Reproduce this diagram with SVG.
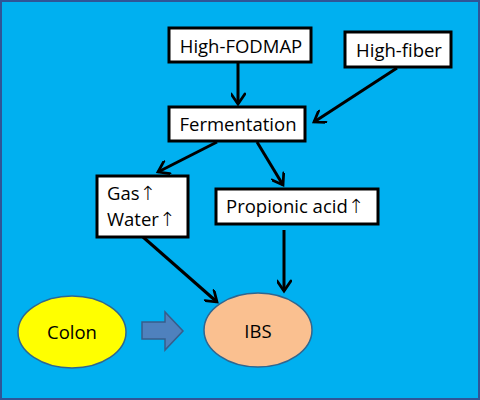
<svg xmlns="http://www.w3.org/2000/svg" width="480" height="400" viewBox="0 0 480 400">
<defs>
<style>
.box{fill:#fff;stroke:#000;stroke-width:3}
.t{font-family:"Open Sans","Liberation Sans",Arial,sans-serif;font-size:18.5px;fill:#000}
.ar{font-family:"DejaVu Sans",sans-serif;font-weight:200;font-size:19.5px}
.c{stroke:#000;stroke-width:3;fill:none;marker-end:url(#ah)}
</style>
<marker id="ah" viewBox="0 0 12 12" refX="10" refY="6" markerWidth="5" markerHeight="5" orient="auto" markerUnits="strokeWidth">
<path d="M2,0.5 L10,6 L2,11.5" fill="none" stroke="#000" stroke-width="2.2" stroke-linecap="round" stroke-linejoin="miter"/>
</marker>
</defs>
<rect x="1" y="1" width="478" height="398" fill="#00B0F0" stroke="#2F5597" stroke-width="2"/>
<g id="connectors">
<line class="c" x1="238" y1="62" x2="238" y2="104"/>
<line class="c" x1="397" y1="68" x2="314" y2="122"/>
<line class="c" x1="217" y1="142" x2="158" y2="172"/>
<line class="c" x1="257" y1="142" x2="283" y2="185"/>
<line class="c" x1="143" y1="237" x2="217" y2="302"/>
<line class="c" x1="284" y1="230" x2="284" y2="291"/>
</g>
<g id="high-fodmap">
<rect class="box" x="169" y="28" width="142" height="34"/>
<text class="t" x="241" y="53" text-anchor="middle">High-FODMAP</text>
</g>
<g id="high-fiber">
<rect class="box" x="345" y="32" width="106" height="35"/>
<text class="t" x="399" y="57" text-anchor="middle">High-fiber</text>
</g>
<g id="fermentation">
<rect class="box" x="169" y="107" width="136" height="34"/>
<text class="t" x="238" y="131" text-anchor="middle">Fermentation</text>
</g>
<g id="gas-water">
<rect class="box" x="97" y="176" width="91" height="61"/>
<text class="t" x="107" y="200">Gas<tspan class="ar">↑</tspan></text>
<text class="t" x="107" y="226">Water<tspan class="ar">↑</tspan></text>
</g>
<g id="propionic">
<rect class="box" x="216" y="189" width="162" height="35"/>
<text class="t" x="226" y="213">Propionic acid<tspan class="ar">↑</tspan></text>
</g>
<g id="colon">
<ellipse cx="72" cy="332" rx="54" ry="36" fill="#FFFF00" stroke="#2F6690" stroke-width="1.5"/>
<text class="t" x="72" y="339" text-anchor="middle">Colon</text>
</g>
<g id="block-arrow">
<path d="M142,322 L165,322 L165,312 L183,331 L165,350 L165,339 L142,339 Z" fill="#4F81BD" stroke="#385D8A" stroke-width="1.5"/>
</g>
<g id="ibs">
<ellipse cx="258" cy="330" rx="54" ry="37" fill="#FAC090" stroke="#2F6690" stroke-width="1.5"/>
<text class="t" x="258" y="338" text-anchor="middle">IBS</text>
</g>
</svg>
